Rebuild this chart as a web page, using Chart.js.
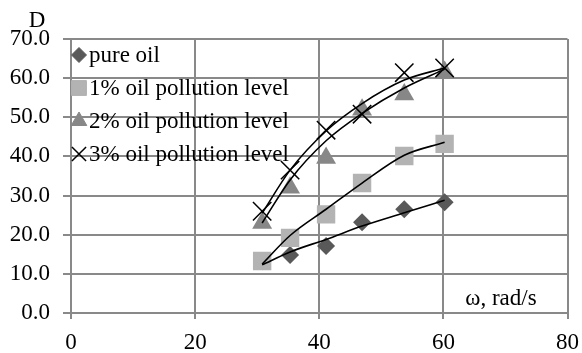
<!DOCTYPE html>
<html>
<head>
<meta charset="utf-8">
<script src="https://cdn.jsdelivr.net/npm/chart.js@4/dist/chart.umd.min.js"></script>
<style>
  html, body { margin: 0; padding: 0; background: #fff; }
  #wrap { width: 582px; height: 353px; position: relative; }
</style>
</head>
<body>
<div id="wrap"><canvas id="chart"></canvas></div>
<script>
// measured points (omega, rad/s)
const omega = [30.8, 35.3, 41.1, 46.9, 53.7, 60.2];
const pureOil = [13.2, 14.8, 17.1, 23.2, 26.5, 28.3];
const oil1 = [13.3, 19.2, 25.2, 33.2, 40.1, 43.2];
const oil2 = [23.0, 32.0, 39.6, 51.9, 55.8, 61.6];
const oil3 = [26.0, 36.5, 46.7, 50.8, 61.4, 62.6];

// trendlines at the same omega values
const trendPure = [12.3, 15.6, 18.8, 22.2, 25.6, 28.8];
const trend1 = [12.5, 19.8, 26.5, 33.2, 40.3, 43.6];
const trend2 = [23.0, 34.0, 44.0, 51.0, 57.5, 62.3];
const trend3 = [25.5, 36.5, 46.5, 53.5, 59.5, 62.6];

const seriesNames = ['pure oil', '1% oil pollution level', '2% oil pollution level', '3% oil pollution level'];
const yTicks = [0, 10, 20, 30, 40, 50, 60, 70];
const xTicks = [0, 20, 40, 60, 80];

const FONT = "'Liberation Serif', 'Times New Roman', serif";
const FONT_SIZE = 23;
const GRID = '#898989';

const pts = (ys) => ys.map((y, i) => ({ x: omega[i], y }));

const markers = [
  { style: 'rectRot', radius: 9, color: '#595959', legendR: 7.5 },
  { style: 'rect', radius: 13, color: '#b3b3b3', legendR: 10.5 },
  { style: 'triangle', radius: 11.5, color: '#878787', legendR: 9 },
  { style: 'crossRot', radius: 13, color: '#000000', legendR: 10 }
];

const pointSet = (data, i) => ({
  label: seriesNames[i],
  data: pts(data),
  showLine: false,
  pointStyle: markers[i].style,
  pointRadius: markers[i].radius,
  pointHoverRadius: markers[i].radius,
  backgroundColor: markers[i].color,
  borderColor: markers[i].color,
  pointBorderWidth: i === 3 ? 1.5 : 0,
  order: 10 - i
});

const trendSet = (data) => ({
  data: pts(data),
  showLine: true,
  borderColor: '#000',
  borderWidth: 1.6,
  pointRadius: 0,
  cubicInterpolationMode: 'monotone',
  order: 0
});

// legend + axis titles drawn inside the plot like the original
const overlay = {
  id: 'overlay',
  afterDatasetsDraw(chart) {
    const ctx = chart.ctx;
    const a = chart.chartArea;
    ctx.save();
    ctx.font = FONT_SIZE + 'px ' + FONT;
    ctx.textBaseline = 'middle';
    const rows = [55, 88, 121, 154];
    seriesNames.forEach((name, i) => {
      const m = markers[i];
      ctx.fillStyle = m.color;
      ctx.strokeStyle = m.color;
      ctx.lineWidth = i === 3 ? 1.5 : 0;
      Chart.helpers.drawPoint(ctx, { pointStyle: m.style, radius: m.legendR, borderWidth: ctx.lineWidth }, a.left + 8, rows[i]);
      ctx.fillStyle = '#000';
      ctx.textAlign = 'left';
      ctx.fillText(name, a.left + 18, rows[i] + 1);
    });
    ctx.textAlign = 'center';
    ctx.fillText('D', 37, 21);
    ctx.fillText('\u03c9, rad/s', 501, 299);
    ctx.restore();
  }
};

new Chart(document.getElementById('chart'), {
  type: 'scatter',
  data: {
    datasets: [
      trendSet(trendPure), trendSet(trend1), trendSet(trend2), trendSet(trend3),
      pointSet(pureOil, 0), pointSet(oil1, 1), pointSet(oil2, 2), pointSet(oil3, 3)
    ]
  },
  options: {
    responsive: true,
    maintainAspectRatio: false,
    animation: false,
    layout: { padding: { top: 39, right: 13, left: 0, bottom: 0 } },
    plugins: { legend: { display: false }, tooltip: { enabled: false } },
    scales: {
      x: {
        type: 'linear', min: 0, max: 80,
        afterBuildTicks: (s) => { s.ticks = xTicks.map(v => ({ value: v })); },
        afterFit: (s) => { s.height = 40; s.paddingLeft = 0; s.paddingRight = 0; },
        grid: { color: GRID, lineWidth: 2, tickLength: 6 },
        border: { color: GRID, width: 2 },
        ticks: { color: '#000', font: { family: FONT, size: FONT_SIZE }, padding: 10, maxRotation: 0 }
      },
      y: {
        min: 0, max: 70,
        afterBuildTicks: (s) => { s.ticks = yTicks.map(v => ({ value: v })); },
        afterFit: (s) => { s.width = 71; s.paddingTop = 0; s.paddingBottom = 0; },
        grid: { color: GRID, lineWidth: 2, tickLength: 8 },
        border: { color: GRID, width: 2 },
        ticks: { color: '#000', font: { family: FONT, size: FONT_SIZE }, padding: 13, callback: (v) => v.toFixed(1) }
      }
    }
  },
  plugins: [overlay]
});
</script>
</body>
</html>
